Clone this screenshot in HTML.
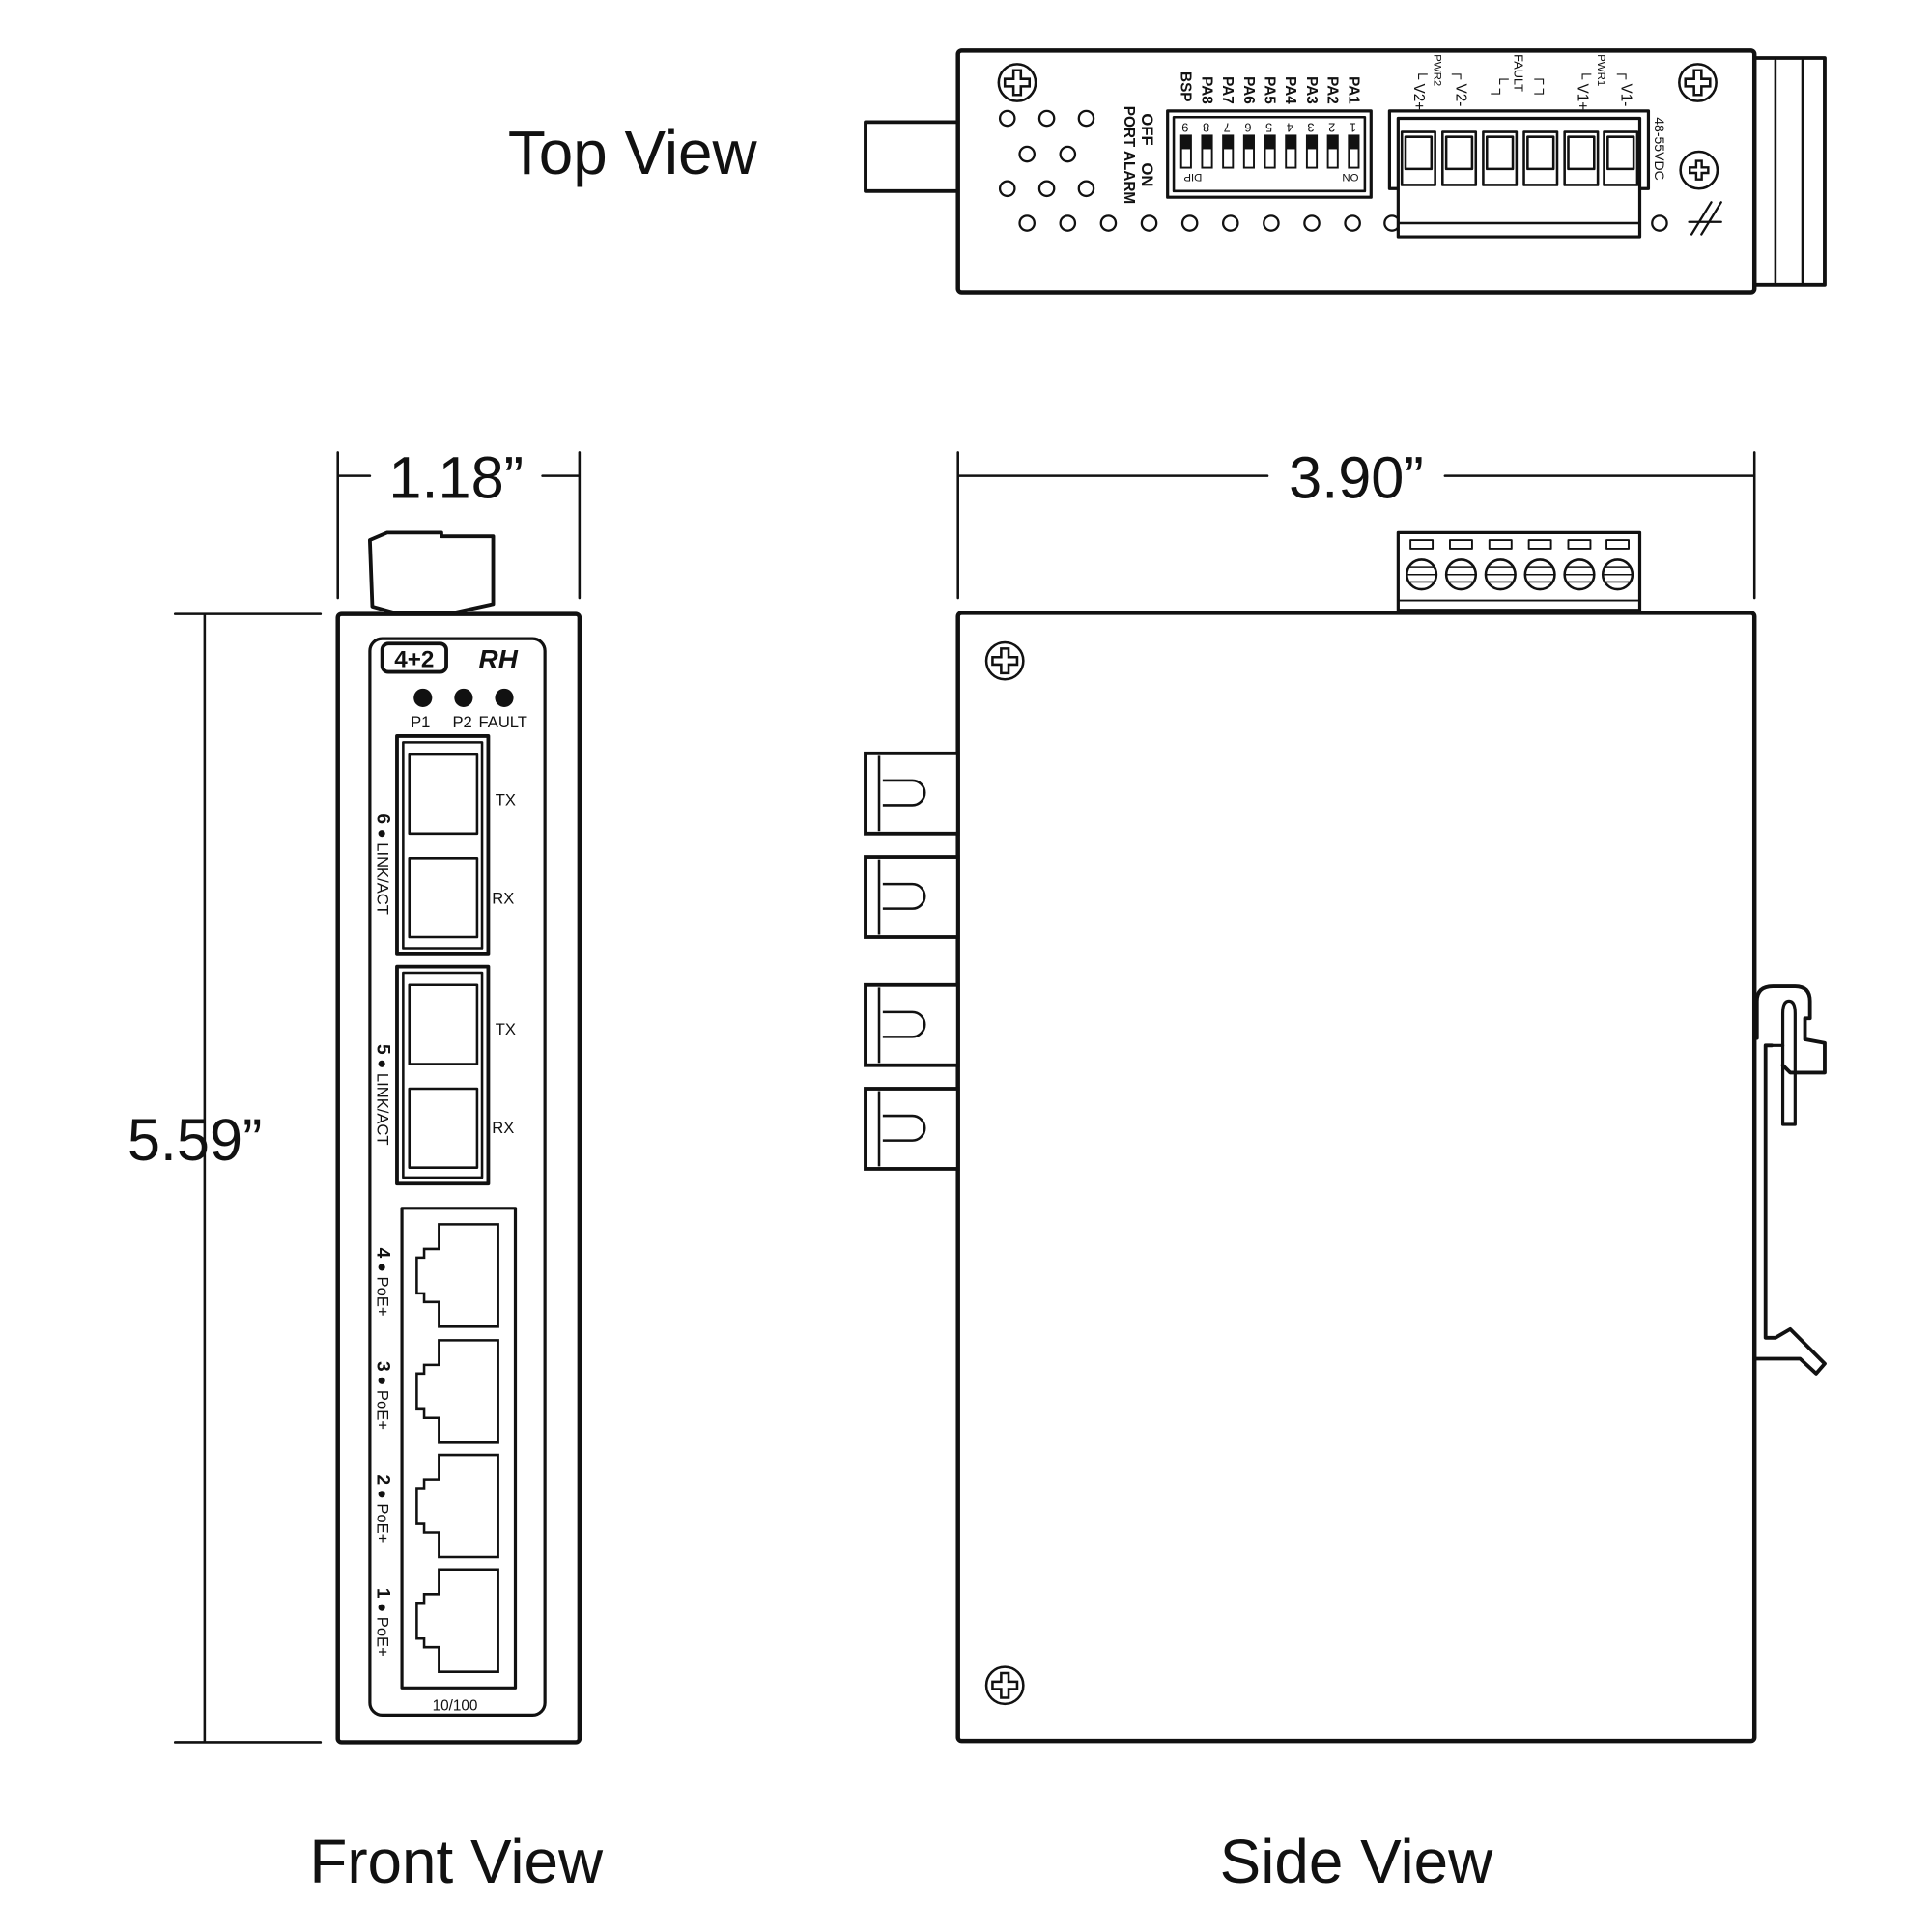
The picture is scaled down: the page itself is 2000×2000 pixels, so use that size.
<!DOCTYPE html>
<html><head><meta charset="utf-8"><style>
html,body{margin:0;padding:0;background:#fff}
svg{display:block}
text{font-family:"Liberation Sans",Arial,sans-serif;fill:#111}
</style></head><body>
<svg width="2000" height="2000" viewBox="0 0 1567 1567" xmlns="http://www.w3.org/2000/svg">
<defs>
<g id="screw"><circle r="15" fill="#fff" stroke="#111" stroke-width="2"/><path d="M-3,-10 h6 v7 h7 v6 h-7 v7 h-6 v-7 h-7 v-6 h7 z" fill="none" stroke="#111" stroke-width="2"/></g>
<g id="rj"><path d="M356,0 h48 v83 h-48 v-20 h-12 v-7 h-6 v-29 h6 v-7 h12 z" fill="none" stroke="#111" stroke-width="2"/></g>
<g id="fib"><rect x="702" y="0" width="75" height="65" fill="#fff" stroke="#111" stroke-width="3"/><line x1="713" y1="2" x2="713" y2="63" stroke="#111" stroke-width="2"/><path d="M716,22 h24 a10,10 0 0 1 0,20 h-24" fill="none" stroke="#111" stroke-width="2"/></g>
</defs>
<g fill="none" stroke="#111" stroke-linecap="round" stroke-linejoin="round">
<!-- TOP VIEW -->
<rect x="702" y="99" width="75" height="56" stroke-width="3"/>
<rect x="1423" y="47" width="57" height="184" stroke-width="3"/>
<line x1="1440" y1="49" x2="1440" y2="229" stroke-width="2"/>
<line x1="1462" y1="49" x2="1462" y2="229" stroke-width="2"/>
<rect x="777" y="41" width="646" height="196" rx="3" fill="#fff" stroke-width="3.5"/>
<g stroke-width="1.8">
<circle cx="817" cy="96" r="6"/><circle cx="849" cy="96" r="6"/><circle cx="881" cy="96" r="6"/>
<circle cx="833" cy="125" r="6"/><circle cx="866" cy="125" r="6"/>
<circle cx="817" cy="153" r="6"/><circle cx="849" cy="153" r="6"/><circle cx="881" cy="153" r="6"/>
<circle cx="833" cy="181" r="6"/><circle cx="866" cy="181" r="6"/><circle cx="899" cy="181" r="6"/><circle cx="932" cy="181" r="6"/><circle cx="965" cy="181" r="6"/><circle cx="998" cy="181" r="6"/><circle cx="1031" cy="181" r="6"/><circle cx="1064" cy="181" r="6"/><circle cx="1097" cy="181" r="6"/><circle cx="1129" cy="181" r="6"/><circle cx="1346" cy="181" r="6"/>
</g>
<rect x="947" y="90" width="165" height="70" stroke-width="2.5"/>
<rect x="952" y="95" width="155" height="60" stroke-width="2"/>
<rect x="1127" y="90" width="210" height="63" stroke-width="2.5"/>
<rect x="1134" y="96" width="196" height="96" fill="#fff" stroke-width="2.5"/>
<line x1="1134" y1="181" x2="1330" y2="181" stroke-width="2"/>
<g stroke-width="2">
<rect x="1137" y="107" width="27" height="43"/><rect x="1140" y="111" width="21" height="26"/>
<rect x="1170" y="107" width="27" height="43"/><rect x="1173" y="111" width="21" height="26"/>
<rect x="1203" y="107" width="27" height="43"/><rect x="1206" y="111" width="21" height="26"/>
<rect x="1236" y="107" width="27" height="43"/><rect x="1239" y="111" width="21" height="26"/>
<rect x="1269" y="107" width="27" height="43"/><rect x="1272" y="111" width="21" height="26"/>
<rect x="1301" y="107" width="27" height="43"/><rect x="1304" y="111" width="21" height="26"/>
</g>
<circle cx="1378" cy="138" r="15" stroke-width="2"/>
<path d="M1372,190 l16,-26 M1380,190 l16,-26 M1370,180 h26" stroke-width="1.8"/>
<!-- FRONT VIEW -->
<path d="M274,367 v118 M470,367 v118 M274,386 h26 M440,386 h30" stroke-width="2"/>
<path d="M142,498 h118 M142,1413 h118 M166,498 v915" stroke-width="2"/>
<path d="M300,438 l14,-6 h44 v3 h42 v55 l-32,7 h-48 l-18,-5 z" fill="#fff" stroke-width="3"/>
<rect x="274" y="498" width="196" height="915" rx="3" fill="#fff" stroke-width="3.5"/>
<rect x="300" y="518" width="142" height="873" rx="10" stroke-width="2.5"/>
<rect x="310" y="522" width="52" height="23" rx="5" stroke-width="3"/>
<rect x="322" y="597" width="74" height="177" stroke-width="3"/><rect x="327" y="602" width="64" height="167" stroke-width="2"/>
<rect x="332" y="612" width="55" height="64" stroke-width="2"/><rect x="332" y="696" width="55" height="64" stroke-width="2"/>
<rect x="322" y="784" width="74" height="176" stroke-width="3"/><rect x="327" y="789" width="64" height="166" stroke-width="2"/>
<rect x="332" y="799" width="55" height="64" stroke-width="2"/><rect x="332" y="883" width="55" height="64" stroke-width="2"/>
<rect x="326" y="980" width="92" height="389" stroke-width="2.5"/>
<!-- SIDE VIEW -->
<path d="M777,367 v118 M1423,367 v118 M777,386 h251 M1172,386 h251" stroke-width="2"/>
<rect x="1134" y="432" width="196" height="63" stroke-width="2.5"/>
<line x1="1134" y1="487" x2="1330" y2="487" stroke-width="1.5"/>
<g stroke-width="1.5">
<rect x="1144" y="438" width="18" height="7"/><rect x="1176" y="438" width="18" height="7"/><rect x="1208" y="438" width="18" height="7"/><rect x="1240" y="438" width="18" height="7"/><rect x="1272" y="438" width="18" height="7"/><rect x="1303" y="438" width="18" height="7"/>
</g>
<g stroke-width="2">
<circle cx="1153" cy="466" r="12"/><path d="M1141,466 h24 M1143,460 h20 M1143,472 h20" stroke-width="1.2"/>
<circle cx="1185" cy="466" r="12"/><path d="M1173,466 h24 M1175,460 h20 M1175,472 h20" stroke-width="1.2"/>
<circle cx="1217" cy="466" r="12"/><path d="M1205,466 h24 M1207,460 h20 M1207,472 h20" stroke-width="1.2"/>
<circle cx="1249" cy="466" r="12"/><path d="M1237,466 h24 M1239,460 h20 M1239,472 h20" stroke-width="1.2"/>
<circle cx="1281" cy="466" r="12"/><path d="M1269,466 h24 M1271,460 h20 M1271,472 h20" stroke-width="1.2"/>
<circle cx="1312" cy="466" r="12"/><path d="M1300,466 h24 M1302,460 h20 M1302,472 h20" stroke-width="1.2"/>
</g>
<rect x="777" y="497" width="646" height="915" rx="3" fill="#fff" stroke-width="3.5"/>
<!-- DIN clip -->
<path d="M1425,842 V812 Q1425,800 1438,800 H1456 Q1468,800 1468,812 V826 H1464 V843 L1480,846 V870 H1452 L1446,864" stroke-width="3"/>
<path d="M1446,912 V822 Q1446,812 1451,812 Q1456,812 1456,822 V912 Z" stroke-width="2.5"/>
<path d="M1437,848 H1432 V1085 H1440 L1452,1078 L1480,1106 L1473,1114 L1460,1102 H1424" stroke-width="3"/>
<path d="M1432,848 H1446" stroke-width="2.5"/>
</g>
<g fill="#111" stroke="none">
<g>
<rect x="958" y="110" width="8" height="26" fill="#fff" stroke="#111" stroke-width="1.5"/><rect x="958" y="110" width="8" height="11"/>
<rect x="975" y="110" width="8" height="26" fill="#fff" stroke="#111" stroke-width="1.5"/><rect x="975" y="110" width="8" height="11"/>
<rect x="992" y="110" width="8" height="26" fill="#fff" stroke="#111" stroke-width="1.5"/><rect x="992" y="110" width="8" height="11"/>
<rect x="1009" y="110" width="8" height="26" fill="#fff" stroke="#111" stroke-width="1.5"/><rect x="1009" y="110" width="8" height="11"/>
<rect x="1026" y="110" width="8" height="26" fill="#fff" stroke="#111" stroke-width="1.5"/><rect x="1026" y="110" width="8" height="11"/>
<rect x="1043" y="110" width="8" height="26" fill="#fff" stroke="#111" stroke-width="1.5"/><rect x="1043" y="110" width="8" height="11"/>
<rect x="1060" y="110" width="8" height="26" fill="#fff" stroke="#111" stroke-width="1.5"/><rect x="1060" y="110" width="8" height="11"/>
<rect x="1077" y="110" width="8" height="26" fill="#fff" stroke="#111" stroke-width="1.5"/><rect x="1077" y="110" width="8" height="11"/>
<rect x="1094" y="110" width="8" height="26" fill="#fff" stroke="#111" stroke-width="1.5"/><rect x="1094" y="110" width="8" height="11"/>
</g>
<circle cx="343" cy="566" r="7.5"/><circle cx="376" cy="566" r="7.5"/><circle cx="409" cy="566" r="7.5"/>
</g>
<use href="#screw" x="825" y="67"/><use href="#screw" x="1377" y="67"/>
<g transform="translate(1378,138) scale(0.75)"><path d="M-3,-10 h6 v7 h7 v6 h-7 v7 h-6 v-7 h-7 v-6 h7 z" fill="none" stroke="#111" stroke-width="2.5"/></g>
<use href="#screw" x="815" y="536"/><use href="#screw" x="815" y="1367"/>
<use href="#rj" y="993"/><use href="#rj" y="1087"/><use href="#rj" y="1180"/><use href="#rj" y="1273"/>
<use href="#fib" y="611"/><use href="#fib" y="695"/><use href="#fib" y="799"/><use href="#fib" y="883"/>

<text x="513" y="141" font-size="50" text-anchor="middle">Top View</text>
<text x="370" y="1527" font-size="50" text-anchor="middle">Front View</text>
<text x="1100" y="1527" font-size="50" text-anchor="middle">Side View</text>
<text x="370" y="404" font-size="48" text-anchor="middle">1.18”</text>
<text x="1100" y="404" font-size="48" text-anchor="middle">3.90”</text>
<text x="158" y="941" font-size="48" text-anchor="middle">5.59”</text>
<g font-size="14" font-weight="bold">
<g transform="translate(926,92) rotate(90)"><text x="0" y="0" font-size="13">OFF</text><text x="40" y="0" font-size="13">ON</text></g>
<g transform="translate(912,86) rotate(90)"><text font-size="12">PORT ALARM</text></g>
<g font-size="12">
<text transform="translate(1094,62) rotate(90)">PA1</text>
<text transform="translate(1077,62) rotate(90)">PA2</text>
<text transform="translate(1060,62) rotate(90)">PA3</text>
<text transform="translate(1043,62) rotate(90)">PA4</text>
<text transform="translate(1026,62) rotate(90)">PA5</text>
<text transform="translate(1009,62) rotate(90)">PA6</text>
<text transform="translate(992,62) rotate(90)">PA7</text>
<text transform="translate(975,62) rotate(90)">PA8</text>
<text transform="translate(958,58) rotate(90)">BSP</text>
</g>
<g font-size="10" font-weight="normal">
<text transform="translate(1100,100) rotate(180)">1</text><text transform="translate(1083,100) rotate(180)">2</text><text transform="translate(1066,100) rotate(180)">3</text><text transform="translate(1049,100) rotate(180)">4</text><text transform="translate(1032,100) rotate(180)">5</text><text transform="translate(1015,100) rotate(180)">6</text><text transform="translate(998,100) rotate(180)">7</text><text transform="translate(981,100) rotate(180)">8</text><text transform="translate(964,100) rotate(180)">9</text>
<text transform="translate(1102,141) rotate(180)" font-size="9">ON</text>
<text transform="translate(975,141) rotate(180)" font-size="9">DIP</text>
</g>
<g font-size="12" font-weight="normal">
<text transform="translate(1147,56) rotate(90)">└ V2+</text>
<text transform="translate(1181,56) rotate(90)">┌ V2-</text>
<text transform="translate(1163,44) rotate(90)" font-size="9">PWR2</text>
<text transform="translate(1228,44) rotate(90)" font-size="10">FAULT</text>
<text transform="translate(1213,60) rotate(90)">└ ┐</text>
<text transform="translate(1248,60) rotate(90)">┌ ┐</text>
<text transform="translate(1280,56) rotate(90)">└ V1+</text>
<text transform="translate(1315,56) rotate(90)">┌ V1-</text>
<text transform="translate(1296,44) rotate(90)" font-size="9">PWR1</text>
<text transform="translate(1342,95) rotate(90)" font-size="11">48-55VDC</text>
</g>
<text x="336" y="541" font-size="19" text-anchor="middle" font-weight="900">4+2</text>
<text x="404" y="542" font-size="22" text-anchor="middle" font-weight="900" font-style="italic">RH</text>
<g font-size="13" font-weight="normal">
<text x="341" y="590" text-anchor="middle">P1</text><text x="375" y="590" text-anchor="middle">P2</text><text x="408" y="590" text-anchor="middle">FAULT</text>
<text x="410" y="653" text-anchor="middle">TX</text><text x="408" y="733" text-anchor="middle">RX</text>
<text x="410" y="839" text-anchor="middle">TX</text><text x="408" y="919" text-anchor="middle">RX</text>
<text x="369" y="1387" text-anchor="middle" font-size="12">10/100</text>
</g>
<g font-size="13" font-weight="normal">
<text transform="translate(306,660) rotate(90)"><tspan font-weight="900" font-size="15">6</tspan> ● LINK/ACT</text>
<text transform="translate(306,847) rotate(90)"><tspan font-weight="900" font-size="15">5</tspan> ● LINK/ACT</text>
<text transform="translate(306,1012) rotate(90)"><tspan font-weight="900" font-size="15">4</tspan> ● PoE+</text>
<text transform="translate(306,1104) rotate(90)"><tspan font-weight="900" font-size="15">3</tspan> ● PoE+</text>
<text transform="translate(306,1196) rotate(90)"><tspan font-weight="900" font-size="15">2</tspan> ● PoE+</text>
<text transform="translate(306,1288) rotate(90)"><tspan font-weight="900" font-size="15">1</tspan> ● PoE+</text>
</g>
</g>
</svg>
</body></html>
